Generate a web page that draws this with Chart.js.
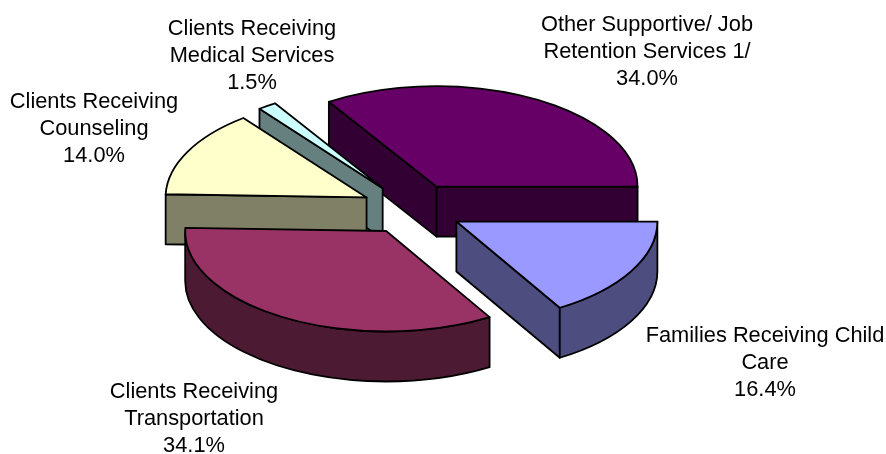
<!DOCTYPE html>
<html>
<head>
<meta charset="utf-8">
<style>
  html, body { margin: 0; padding: 0; background: #fff; }
  canvas { display: block; }
</style>
<script src="https://cdn.jsdelivr.net/npm/chart.js@4/dist/chart.umd.min.js"></script>
</head>
<body>
<canvas id="servicesPie" width="886" height="454"></canvas>
<script>
  const categories = [
    ['Other Supportive/ Job', 'Retention Services 1/'],
    ['Families Receiving Child', 'Care'],
    ['Clients Receiving', 'Transportation'],
    ['Clients Receiving', 'Counseling'],
    ['Clients Receiving', 'Medical Services'],
  ];
  const shares = [34.0, 16.4, 34.1, 14.0, 1.5];

  const topColors = ['#660066', '#9999FF', '#993366', '#FFFFCC', '#CCFFFF'];
  const sideColors = ['#330033', '#4D4D80', '#4D1A33', '#808066', '#668080'];

  // centre x and first baseline of each label block
  const labelSpots = [[647, 31], [765, 341.5], [194, 397.5], [94, 108], [252, 35]];

  const TILT = 0.5;      // vertical squash of the pie
  const DEPTH = 50;      // height of the extruded wall
  const EXPLODE = 51;    // how far each slice is pulled out
  const LINE_HEIGHT = 27;
  const OUTLINE = 1.8;

  const pie3d = {
    id: 'pie3d',
    // pull the slices apart, the arc offset option also changes their radius
    afterDatasetsUpdate(chart) {
      chart.getDatasetMeta(0).data.forEach(arc => {
        const mid = (arc.startAngle + arc.endAngle) / 2;
        arc.x += Math.cos(mid) * EXPLODE;
        arc.y += Math.sin(mid) * EXPLODE;
      });
    },
    beforeDatasetsDraw(chart) {
      const ctx = chart.ctx;
      const cy = (chart.chartArea.top + chart.chartArea.bottom) / 2;
      const arcs = chart.getDatasetMeta(0).data.map((arc, i) => ({ arc, i }));

      // back slices first
      arcs.sort((a, b) => a.arc.y - b.arc.y);
      ctx.save();
      ctx.lineWidth = OUTLINE;
      ctx.lineJoin = 'round';
      ctx.strokeStyle = '#000';
      arcs.forEach(({ arc, i }) => {
        const x = arc.x;
        const y = cy + (arc.y - cy) * TILT;
        const r = arc.outerRadius;
        ctx.fillStyle = sideColors[i];
        const flatWall = a => {
          const ex = x + Math.cos(a) * r;
          const ey = y + Math.sin(a) * r * TILT;
          ctx.beginPath();
          ctx.moveTo(x, y);
          ctx.lineTo(ex, ey);
          ctx.lineTo(ex, ey + DEPTH);
          ctx.lineTo(x, y + DEPTH);
          ctx.closePath();
          ctx.fill();
          ctx.stroke();
        };
        if (Math.cos(arc.startAngle) < 0) flatWall(arc.startAngle);
        if (Math.cos(arc.endAngle) > 0) flatWall(arc.endAngle);

        // curved wall only shows on the front half of the rim
        const from = Math.max(arc.startAngle, 0);
        const to = Math.min(arc.endAngle, Math.PI);
        if (to > from) {
          ctx.beginPath();
          ctx.ellipse(x, y, r, r * TILT, 0, from, to, false);
          ctx.ellipse(x, y + DEPTH, r, r * TILT, 0, to, from, true);
          ctx.closePath();
          ctx.fill();
          ctx.stroke();
        }
      });
      ctx.restore();

      // the library paints the top faces inside this squashed frame
      ctx.save();
      ctx.translate(0, cy);
      ctx.scale(1, TILT);
      ctx.translate(0, -cy);
    },
    afterDatasetsDraw(chart) {
      const ctx = chart.ctx;
      ctx.restore();

      // outlines go on unsquashed so the line weight stays even
      const cy = (chart.chartArea.top + chart.chartArea.bottom) / 2;
      ctx.save();
      ctx.lineWidth = OUTLINE;
      ctx.lineJoin = 'round';
      ctx.strokeStyle = '#000';
      chart.getDatasetMeta(0).data.forEach(arc => {
        const y = cy + (arc.y - cy) * TILT;
        ctx.beginPath();
        ctx.moveTo(arc.x, y);
        ctx.ellipse(arc.x, y, arc.outerRadius, arc.outerRadius * TILT, 0, arc.startAngle, arc.endAngle, false);
        ctx.closePath();
        ctx.stroke();
      });
      ctx.restore();
    },
    afterDraw(chart) {
      const ctx = chart.ctx;
      ctx.save();
      ctx.font = '21.8px "Liberation Sans", Arial, sans-serif';
      ctx.fillStyle = '#000';
      ctx.textAlign = 'center';
      ctx.textBaseline = 'alphabetic';
      categories.forEach((lines, i) => {
        const [x, y] = labelSpots[i];
        lines.concat(shares[i].toFixed(1) + '%').forEach((text, n) => {
          ctx.fillText(text, x, y + n * LINE_HEIGHT);
        });
      });
      ctx.restore();
    },
  };

  new Chart(document.getElementById('servicesPie'), {
    type: 'pie',
    data: {
      labels: categories.map(c => c.join(' ')),
      datasets: [{
        data: shares,
        backgroundColor: topColors,
        borderWidth: 0,
        clip: false,
      }],
    },
    options: {
      responsive: false,
      animation: false,
      events: [],
      rotation: -32.4,
      radius: 201,
      layout: { padding: { right: 62, bottom: 36 } },
      plugins: { legend: { display: false }, tooltip: { enabled: false } },
    },
    plugins: [pie3d],
  });
</script>
</body>
</html>
